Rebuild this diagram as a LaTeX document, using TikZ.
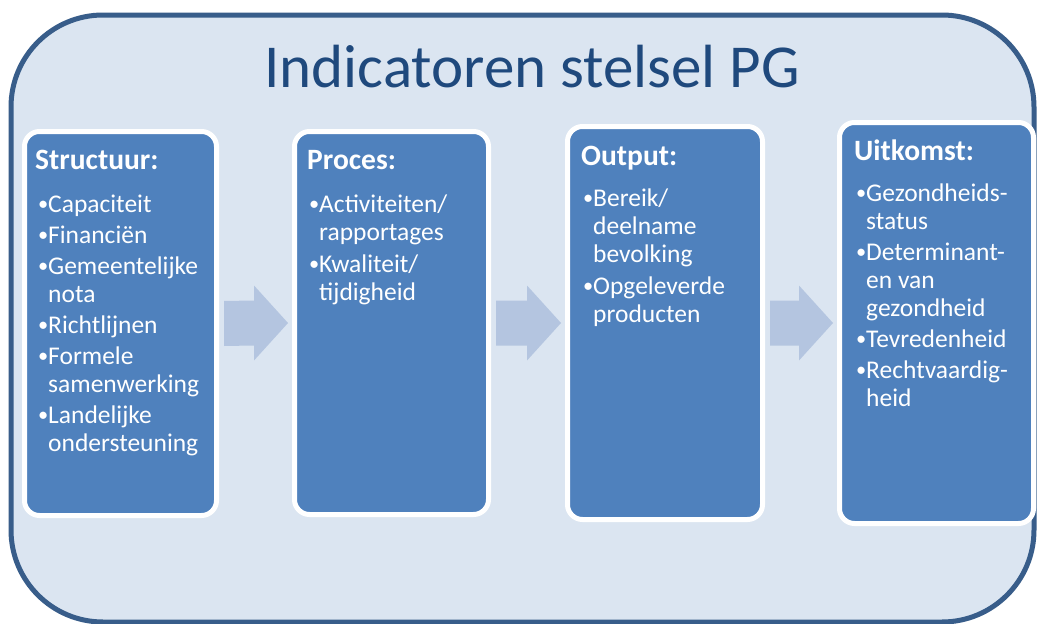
\documentclass[tikz,border=0pt]{standalone}
\usepackage{fontspec}
\setmainfont{Carlito}
\usetikzlibrary{calc}
\definecolor{outerfill}{RGB}{219,229,241}
\definecolor{outerline}{RGB}{56,93,138}
\definecolor{boxfill}{RGB}{79,129,189}
\definecolor{titlecol}{RGB}{31,73,125}
\definecolor{arrowfill}{RGB}{180,197,224}
\newcommand{\bitem}[1]{\makebox[12pt][l]{\hspace*{2pt}\raisebox{1.2pt}{\scalebox{0.8}{\textbullet}}}#1}
\newcommand{\bcont}[1]{\hspace*{12pt}#1}
\tikzset{
  panel/.style={draw=outerline, line width=5pt, fill=outerfill, rounded corners=92pt},
  card/.style={draw=white, line width=5pt, fill=boxfill, rounded corners=15pt, inner sep=0pt, anchor=north west},
  head/.style={text=white, font=\fontsize{29.5}{34}\selectfont\bfseries, anchor=base west, inner sep=0pt},
  items/.style={text=white, font=\fontsize{25.5}{28}\selectfont, anchor=base west, inner sep=0pt},
  titletext/.style={text=titlecol, font=\fontsize{61}{70}\selectfont, anchor=base, inner sep=0pt},
  blockarrow/.style={fill=arrowfill}
}
\newcommand{\blockarrow}[2]{%
  \fill[blockarrow] ($(#1.east)+(5,-22.5)$) -- ($(#2.west)+(-38,-22.5)$) -- ($(#2.west)+(-38,-37.5)$)
    -- ($(#2.west)+(-4,0)$) -- ($(#2.west)+(-38,37.5)$) -- ($(#2.west)+(-38,22.5)$)
    -- ($(#1.east)+(5,22.5)$) -- cycle;}
\begin{document}
\begin{tikzpicture}[x=1pt,y=-1pt]
\fill[white] (0,0) rectangle (1037,624);
\useasboundingbox (0,0) rectangle (1037,624);
\draw[panel] (11,15) rectangle (1034,622);
\node[titletext] (title) at (532,87) {Indicatoren stelsel PG};

\node[card, minimum width=192pt, minimum height=384pt] (b1) at (22,129) {};
\node[card, minimum width=194pt, minimum height=383pt] (b2) at (292,129) {};
\node[card, minimum width=195pt, minimum height=393pt] (b3) at (565,124) {};
\node[card, minimum width=194pt, minimum height=401pt] (b4) at (837,120) {};

\blockarrow{b1}{b2}
\blockarrow{b2}{b3}
\blockarrow{b3}{b4}

\node[head] (h1) at (35,169) {Structuur:};
\node[head] (h2) at (307,169) {Proces:};
\node[head] (h3) at (581,165) {Output:};
\node[head] (h4) at (854,160) {Uitkomst:};

\node[items] (l1) at (36,212) {\begin{tabular}[t]{@{}l@{}}
\bitem{Capaciteit}\\[3pt]
\bitem{Financiën}\\[3pt]
\bitem{Gemeentelijke}\\
\bcont{nota}\\[3pt]
\bitem{Richtlijnen}\\[3pt]
\bitem{Formele}\\
\bcont{samenwerking}\\[3pt]
\bitem{Landelijke}\\
\bcont{ondersteuning}
\end{tabular}};

\node[items] (l2) at (307,212) {\begin{tabular}[t]{@{}l@{}}
\bitem{Activiteiten/}\\
\bcont{rapportages}\\[4pt]
\bitem{Kwaliteit/}\\
\bcont{tijdigheid}
\end{tabular}};

\node[items] (l3) at (581,206) {\begin{tabular}[t]{@{}l@{}}
\bitem{Bereik/}\\
\bcont{deelname}\\
\bcont{bevolking}\\[4pt]
\bitem{Opgeleverde}\\
\bcont{producten}
\end{tabular}};

\node[items] (l4) at (854,201) {\begin{tabular}[t]{@{}l@{}}
\bitem{Gezondheids-}\\
\bcont{status}\\[3pt]
\bitem{Determinant-}\\
\bcont{en van}\\
\bcont{gezondheid}\\[3pt]
\bitem{Tevredenheid}\\[3pt]
\bitem{Rechtvaardig-}\\
\bcont{heid}
\end{tabular}};
\end{tikzpicture}
\end{document}
